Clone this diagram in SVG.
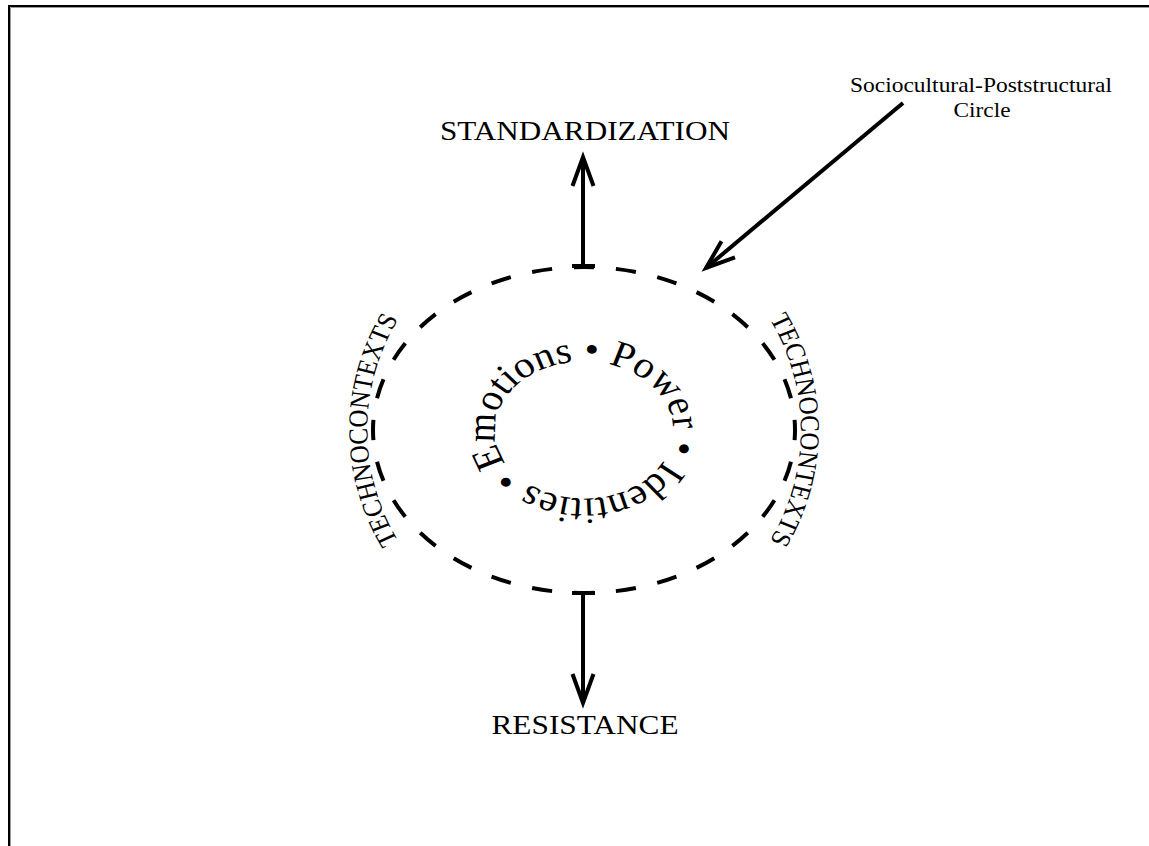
<svg xmlns="http://www.w3.org/2000/svg" width="1149" height="846" viewBox="0 0 1149 846">
<style>
.t{font-family:"Liberation Serif","Times New Roman",serif;fill:#000}
.ln{fill:none;stroke:#000;stroke-width:4}
.ah{fill:none;stroke:#000;stroke-width:4;stroke-linejoin:miter}
</style>
<defs>
<marker id="arrow" markerUnits="userSpaceOnUse" orient="auto" refX="0" refY="0" markerWidth="40" markerHeight="30" overflow="visible">
<path class="ah" d="M -29 -10.5 L 0 0 L -29 10.5"/>
</marker>
<path id="innerPath" d="M -70.84 33.21 A 81 68.5 0 0 1 -39.28 -59.91 A 81 68.5 0 0 1 70.84 -33.21 A 81 68.5 0 0 1 39.28 59.91 A 81 68.5 0 0 1 -70.84 33.21"/>
<path id="leftPath" d="M -161.4 123.3 A 197 215 0 0 1 -161.4 -123.3"/>
<path id="rightPath" d="M 161.4 -123.3 A 197 215 0 0 1 161.4 123.3"/>
</defs>
<rect width="1149" height="846" fill="#fff"/>
<g id="frame">
<path d="M 9 846 V 6 H 1149" fill="none" stroke="#000" stroke-width="2"/>
<path d="M 10.5 846 V 7.5 H 1149" fill="none" stroke="#999" stroke-width="1"/>
</g>
<g id="circle">
<ellipse cx="584" cy="430" rx="211" ry="163" class="ln" pathLength="280" stroke-dasharray="4.8 5.2" stroke-dashoffset="2.4"/>
</g>
<g id="inner-text" transform="translate(584 430) scale(1.1 1)">
<text class="t" font-size="37.3"><textPath href="#innerPath">Emotions • Power • Identities •</textPath></text>
</g>
<g id="techno-left" transform="translate(584 430) scale(1.1 1)">
<text class="t" font-size="25" text-anchor="middle"><textPath href="#leftPath" startOffset="50%">TECHNOCONTEXTS</textPath></text>
</g>
<g id="techno-right" transform="translate(584 430) scale(1.1 1)">
<text class="t" font-size="25" text-anchor="middle"><textPath href="#rightPath" startOffset="50%">TECHNOCONTEXTS</textPath></text>
</g>
<g id="standardization">
<text class="t" x="585" y="140" font-size="27" text-anchor="middle" textLength="290" lengthAdjust="spacingAndGlyphs">STANDARDIZATION</text>
</g>
<g id="resistance">
<text class="t" x="585" y="734" font-size="27" text-anchor="middle" textLength="187" lengthAdjust="spacingAndGlyphs">RESISTANCE</text>
</g>
<g id="sociocultural-label">
<text class="t" x="981" y="92" font-size="21" text-anchor="middle" textLength="262" lengthAdjust="spacingAndGlyphs">Sociocultural-Poststructural</text>
<text class="t" x="982" y="117" font-size="21" text-anchor="middle" textLength="57" lengthAdjust="spacingAndGlyphs">Circle</text>
</g>
<g id="connectors">
<path class="ln" d="M 583 266 V 157" marker-end="url(#arrow)"/>
<path class="ln" d="M 572 266 H 595"/>
<path class="ln" d="M 583 593 V 703" marker-end="url(#arrow)"/>
<path class="ln" d="M 572 593 H 595"/>
<path class="ln" d="M 903 103 L 706 268" marker-end="url(#arrow)"/>
</g>
</svg>
